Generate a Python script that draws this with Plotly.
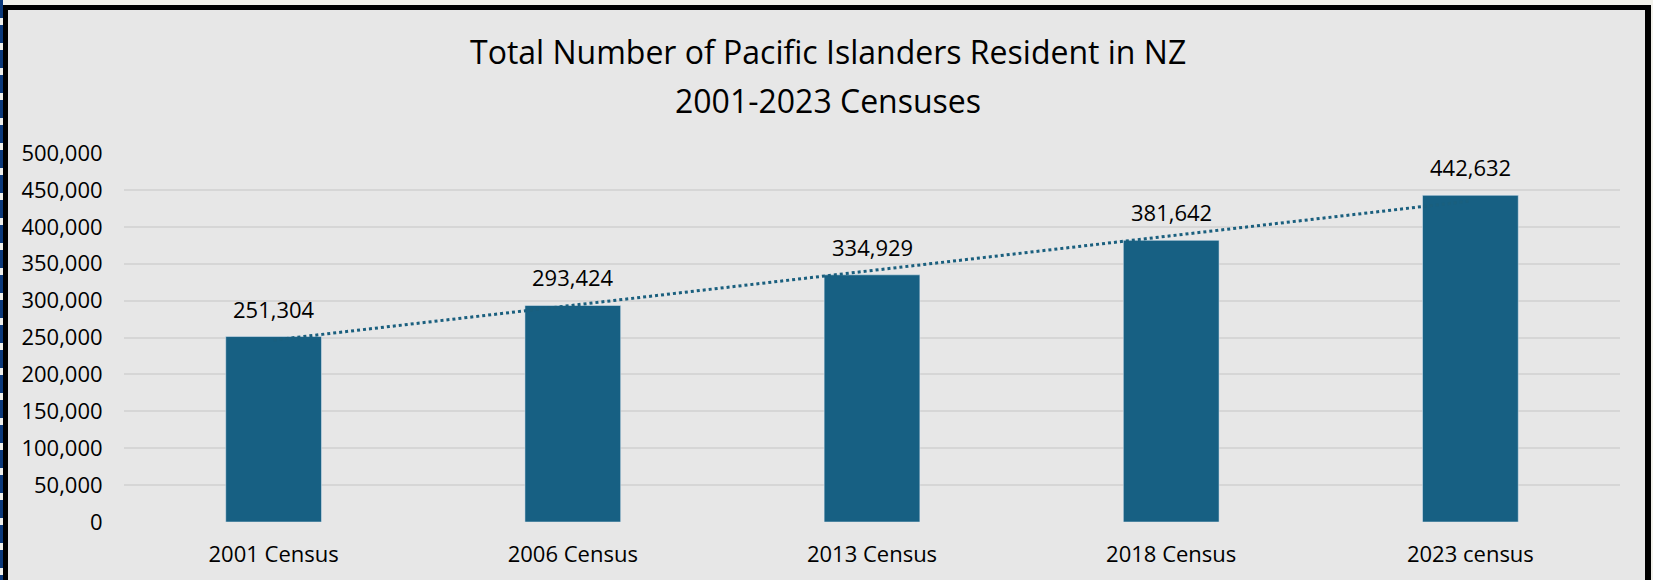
import plotly.graph_objects as go

categories = ["2001 Census", "2006 Census", "2013 Census", "2018 Census", "2023 census"]
values = [251304, 293424, 334929, 381642, 442632]
y_ticks = [0, 50000, 100000, 150000, 200000, 250000, 300000, 350000, 400000, 450000, 500000]
title_lines = ["Total Number of Pacific Islanders Resident in NZ", "2001-2023 Censuses"]

W, H = 1653, 580
L, R, T, B = 124, 33, 153, 58
PW, PH = W - L - R, H - T - B

def px(x):
    return (x - L) / PW

def py(y):
    return 1 - (y - T) / PH

# linear trendline (least squares) over category index
n = len(values)
xs = list(range(n))
xm = sum(xs) / n
ym = sum(values) / n
slope = sum((x - xm) * (v - ym) for x, v in zip(xs, values)) / sum((x - xm) ** 2 for x in xs)
trend = [ym + slope * (x - xm) for x in xs]

BAR = "#176083"
FONT = "Open Sans"
FS = 22

fig = go.Figure()
fig.add_trace(go.Bar(x=categories, y=values, marker_color=BAR, width=0.32, hoverinfo="skip"))
fig.add_trace(go.Scatter(x=categories, y=trend, mode="lines",
                         line=dict(color="#1a5f7e", width=3, dash="dot"), hoverinfo="skip"))

for c, v in zip(categories, values):
    fig.add_annotation(x=c, y=v, text=f"{v:,}", showarrow=False, yanchor="bottom",
                       yshift=11, font=dict(family=FONT, size=FS, color="#000000"))

fig.add_annotation(xref="paper", yref="paper", x=px(828), y=py(52), text=title_lines[0],
                   showarrow=False, xanchor="center", yanchor="middle",
                   font=dict(family=FONT, size=32, color="#000000"))
fig.add_annotation(xref="paper", yref="paper", x=px(828), y=py(100), text=title_lines[1],
                   showarrow=False, xanchor="center", yanchor="middle",
                   font=dict(family=FONT, size=32, color="#000000"))

shapes = []
BEIGE = "#f2f1eb"
# beige outer bands
shapes.append(dict(type="rect", xref="paper", yref="paper", x0=px(0), x1=px(W), y0=py(0), y1=py(5),
                   fillcolor=BEIGE, line_width=0, layer="below"))
shapes.append(dict(type="rect", xref="paper", yref="paper", x0=px(1651), x1=px(W), y0=py(0), y1=py(H),
                   fillcolor=BEIGE, line_width=0, layer="below"))
shapes.append(dict(type="rect", xref="paper", yref="paper", x0=px(0), x1=px(3), y0=py(0), y1=py(H),
                   fillcolor=BEIGE, line_width=0, layer="below"))
# decorative blue strip at left
shapes.append(dict(type="line", xref="paper", yref="paper", x0=px(1.5), x1=px(1.5), y0=py(0), y1=py(H),
                   line=dict(color="#0c3a7c", width=3, dash="18px,7px")))
# black border
shapes.append(dict(type="line", xref="paper", yref="paper", x0=px(5.5), x1=px(5.5), y0=py(5), y1=py(H),
                   line=dict(color="#000000", width=5)))
shapes.append(dict(type="line", xref="paper", yref="paper", x0=px(3), x1=px(1651), y0=py(7.5), y1=py(7.5),
                   line=dict(color="#000000", width=5)))
shapes.append(dict(type="line", xref="paper", yref="paper", x0=px(1648), x1=px(1648), y0=py(5), y1=py(H),
                   line=dict(color="#000000", width=6)))
fig.update_layout(shapes=shapes)

fig.update_layout(
    width=W, height=H,
    margin=dict(l=L, r=R, t=T, b=B, pad=0),
    paper_bgcolor="#e7e7e7", plot_bgcolor="#e7e7e7",
    showlegend=False,
    font=dict(family=FONT, size=FS, color="#000000"),
    bargap=0.68,
)
fig.update_xaxes(showgrid=False, showline=False, zeroline=False, ticks="outside", ticklen=13,
                 tickcolor="rgba(0,0,0,0)", tickfont=dict(family=FONT, size=FS, color="#000000"),
                 fixedrange=True)
fig.update_yaxes(range=[0, 500000], tickvals=y_ticks, ticktext=[f"{t:,}" for t in y_ticks],
                 showgrid=True, gridcolor="#d6d6d6", gridwidth=2, zeroline=False, showline=False,
                 ticks="outside", ticklen=16, tickcolor="rgba(0,0,0,0)",
                 tickfont=dict(family=FONT, size=FS, color="#000000"), fixedrange=True)

fig.write_html("out.html")
